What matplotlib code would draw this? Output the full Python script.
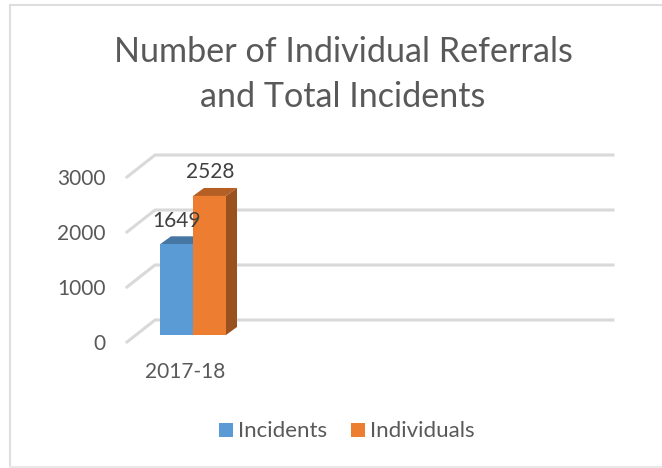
import matplotlib
matplotlib.use('Agg')
import matplotlib.pyplot as plt
from matplotlib.patches import Polygon, Rectangle

categories = ['2017-18']
series_names = ['Incidents', 'Individuals']
incidents = [1649]
individuals = [2528]
y_ticks = [0, 1000, 2000, 3000]

COLORS = ['#5b9bd5', '#ed7d31']
TOPS = ['#4677a3', '#b55f25']
SIDES = ['#3f6d98', '#9a5120']
GREY = '#d9d9d9'
TEXT = '#595959'

# pixels per unit, and where value 0 sits on the bar front
PPU = 0.055
BASE_Y = 335
DX, DY = 11, 8
BAR_W = 33
BAR_X = 160

plt.rcParams['font.family'] = ['Lato', 'DejaVu Sans']


def py(value):
    return value * PPU


def draw_bar(ax, x, value, i):
    h = py(value)
    ax.bar(x, h, width=BAR_W, bottom=0, align='edge', color=COLORS[i], zorder=5 + i)
    top = [(x, h), (x + BAR_W, h), (x + BAR_W + DX, h + DY), (x + DX, h + DY)]
    side = [(x + BAR_W, 0), (x + BAR_W + DX, DY), (x + BAR_W + DX, h + DY), (x + BAR_W, h)]
    ax.add_patch(Polygon(top, color=TOPS[i], lw=0, zorder=4 + i))
    ax.add_patch(Polygon(side, color=SIDES[i], lw=0, zorder=4 + i))


fig = plt.figure(figsize=(6.62, 4.68), dpi=100)
ax = fig.add_axes([0, 0, 1, 1])
ax.set_xlim(0, 662)
ax.set_ylim(BASE_Y - 468, BASE_Y)
ax.axis('off')

# frame of the pasted chart
ax.plot([10, 10, 662], [BASE_Y - 467, BASE_Y - 4.5, BASE_Y - 4.5], color='#dedede', lw=1.5,
        solid_joinstyle='miter')
ax.plot([10, 662], [BASE_Y - 467, BASE_Y - 467], color='#e8e8e8', lw=1.5)

# gridlines: front edge on the floor, then the back wall
for v in y_ticks:
    y = py(v)
    ax.plot([127, 155, 613], [y - 7, y + 15, y + 15], color=GREY, lw=2.2,
            solid_joinstyle='miter', zorder=1)
    ax.text(106, y - 9, f'{v}', ha='right', va='center', fontsize=15, color=TEXT)

draw_bar(ax, BAR_X, incidents[0], 0)
draw_bar(ax, BAR_X + BAR_W, individuals[0], 1)

ax.text(177, py(incidents[0]) + 23, f'{incidents[0]}', ha='center', va='center',
        fontsize=15, color='#404040', zorder=10)
ax.text(210, py(individuals[0]) + 24, f'{individuals[0]}', ha='center', va='center',
        fontsize=15, color='#404040', zorder=10)

ax.text(185, BASE_Y - 372, categories[0], ha='center', va='center', fontsize=15, color=TEXT)

ax.text(343, BASE_Y - 52, 'Number of Individual Referrals', ha='center', va='center',
        fontsize=24.6, color=TEXT)
ax.text(343, BASE_Y - 97, 'and Total Incidents', ha='center', va='center',
        fontsize=24.6, color=TEXT)

# legend
for x, c, name in zip([219, 351], COLORS, series_names):
    ax.add_patch(Rectangle((x, BASE_Y - 437), 14, 14, color=c, lw=0))
    ax.text(x + 19, BASE_Y - 431, name, ha='left', va='center', fontsize=16, color=TEXT)

fig.savefig('out.png', dpi=100)
